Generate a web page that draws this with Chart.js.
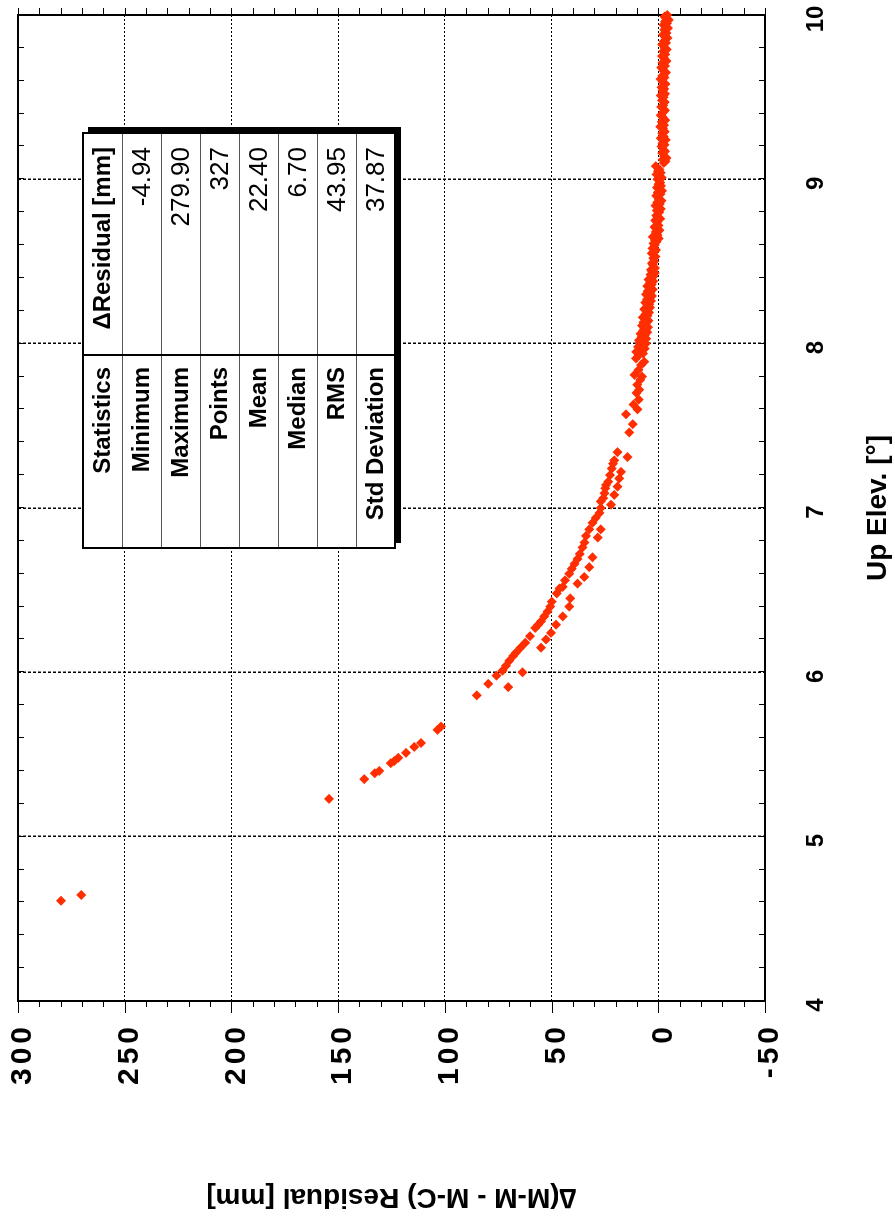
<!DOCTYPE html>
<html>
<head>
<meta charset="utf-8">
<script src="https://cdn.jsdelivr.net/npm/chart.js@4.4.1/dist/chart.umd.min.js"></script>
<style>
  html, body { margin: 0; padding: 0; background: #fff; overflow: hidden; }
  /* chart is drawn landscape, then turned 90deg counter-clockwise like the printout */
  #wrap { position: absolute; left: 0; top: 0; width: 1222px; height: 895px;
          transform-origin: 0 0; transform: translate(0px, 1222px) rotate(-90deg); }
</style>
</head>
<body>
<div id="wrap"><canvas id="residChart" width="1222" height="895"></canvas></div>
<script>
// Up elevation [deg] and delta residual [mm] in pieces
const lowElev  = [4.61, 4.645, 5.23, 5.35, 5.386, 5.40, 5.447, 5.46, 5.48, 5.51, 5.546, 5.57, 5.65, 5.67];
const lowResid = [279.9, 270.4, 154.3, 137.8, 132.8, 130.7, 125.3, 123.7, 121.8, 118.2, 114.3, 111.2, 103.4, 101.8];

const kneeElev  = [5.86, 5.91, 5.93, 5.98, 6.00, 6.01, 6.04, 6.07, 6.10, 6.12, 6.15, 6.15, 6.18, 6.20,
                   6.22, 6.24, 6.27, 6.29, 6.29, 6.31, 6.34, 6.34, 6.37, 6.40, 6.40, 6.43, 6.45, 6.48];
const kneeResid = [85.1, 70.3, 79.7, 75.8, 63.6, 73.0, 71.3, 69.8, 68.0, 66.7, 55.0, 64.6, 62.3, 52.6,
                   60.1, 50.3, 57.6, 47.9, 56.2, 55.0, 44.8, 53.4, 51.9, 41.7, 50.6, 49.9, 41.2, 47.6];

const midElev  = [6.51, 6.52, 6.54, 6.56, 6.58, 6.60, 6.63, 6.64, 6.66, 6.69, 6.70, 6.72, 6.76, 6.79,
                  6.82, 6.83, 6.87, 6.87, 6.91, 6.94, 6.97];
const midResid = [46.3, 44.8, 37.8, 43.7, 34.7, 41.7, 40.6, 32.3, 39.2, 37.9, 30.8, 36.8, 35.5, 34.6,
                  28.4, 33.9, 26.9, 32.4, 30.8, 29.3, 27.6];

const sevenElev  = [7.00, 7.02, 7.04, 7.06, 7.08, 7.09, 7.12, 7.13, 7.14, 7.16, 7.18, 7.20, 7.22, 7.24,
                    7.27, 7.29, 7.31, 7.34, 7.46, 7.51, 7.57, 7.60, 7.63, 7.66, 7.70, 7.72, 7.75, 7.78,
                    7.80, 7.81, 7.84, 7.87, 7.89, 7.91];
const sevenResid = [27.0, 22.2, 26.9, 25.8, 20.6, 25.2, 24.8, 19.1, 24.5, 23.4, 18.3, 22.6, 17.5, 21.8,
                    21.2, 20.6, 14.4, 19.1, 13.6, 12.0, 15.1, 9.7, 11.6, 9.2, 10.2, 8.9, 9.9, 8.4,
                    7.6, 11.2, 9.3, 8.1, 6.6, 10.4];

const eightElev  = [7.93, 7.94, 7.95, 7.96, 7.97, 7.98, 7.99, 8.00, 8.00, 8.01, 8.02, 8.03, 8.04, 8.05,
                    8.06, 8.07, 8.08, 8.09, 8.10, 8.11, 8.12, 8.13, 8.14, 8.15, 8.16, 8.17, 8.18, 8.19, 8.20];
const eightResid = [9.1, 7.2, 10.3, 8.4, 6.4, 9.5, 7.8, 8.6, 5.9, 7.0, 9.0, 5.6, 7.9, 6.3,
                    8.3, 5.2, 7.1, 6.6, 4.8, 7.6, 5.9, 6.9, 4.6, 6.2, 7.3, 5.1, 6.0, 4.3, 5.5];

const eightHiElev  = [8.21, 8.22, 8.23, 8.24, 8.25, 8.26, 8.27, 8.28, 8.29, 8.30, 8.31, 8.32, 8.33, 8.34,
                      8.35, 8.36, 8.37, 8.38, 8.39, 8.40, 8.41, 8.42, 8.43, 8.44, 8.45, 8.46, 8.48, 8.49,
                      8.50, 8.52, 8.53, 8.55, 8.56, 8.57, 8.58, 8.60];
const eightHiResid = [6.6, 3.9, 5.0, 4.2, 6.1, 3.4, 5.3, 4.5, 2.9, 5.7, 3.8, 4.9, 2.6, 4.1,
                      5.2, 3.1, 3.9, 2.4, 4.6, 3.3, 2.2, 3.6, 1.7, 2.9, 3.4, 1.5, 2.6, 3.0,
                      1.9, 2.4, 1.3, 3.1, 2.0, 1.1, 2.7, 1.6];

const nineElev  = [8.61, 8.62, 8.63, 8.64, 8.65, 8.66, 8.68, 8.69, 8.70, 8.71, 8.72, 8.74, 8.75, 8.76,
                   8.77, 8.78, 8.80, 8.81, 8.82, 8.83, 8.84, 8.85, 8.86, 8.87, 8.88, 8.90, 8.91, 8.92,
                   8.93, 8.94, 8.95, 8.96, 8.97, 8.98, 9.00, 9.01, 9.02, 9.03, 9.04, 9.05, 9.06, 9.08];
const nineResid = [2.2, 0.8, 1.5, -0.2, 2.6, 0.4, 1.2, -0.6, 0.9, 1.8, -0.1, 0.6, 1.4, -0.9,
                   0.3, 1.0, -0.4, 0.7, -1.2, 0.1, 1.3, -0.7, 0.5, -1.5, -0.2, 0.9, -1.0, 0.2,
                   -1.7, -0.5, 0.6, -1.3, -0.1, -0.9, 0.4, -1.6, -0.3, 0.8, -1.1, 0.1, -0.6, 1.2];

const nineHiElev  = [9.10, 9.11, 9.12, 9.13, 9.14, 9.16, 9.17, 9.18, 9.20, 9.21, 9.22, 9.24, 9.25, 9.26,
                     9.28, 9.29, 9.31, 9.32, 9.33, 9.35, 9.36, 9.38, 9.39, 9.41, 9.42, 9.44, 9.45, 9.47, 9.48];
const nineHiResid = [-2.6, -3.4, -2.1, -3.9, -2.8, -1.9, -3.2, -2.4, -1.5, -2.9, -2.0, -3.5, -1.2, -2.6,
                     -1.8, -3.0, -2.2, -0.9, -2.7, -1.6, -3.3, -2.0, -1.1, -2.5, -3.1, -1.4, -2.3, -3.0, -1.7];

const topElev  = [9.50, 9.51, 9.52, 9.54, 9.55, 9.56, 9.58, 9.59, 9.61, 9.62, 9.63, 9.65, 9.66, 9.68,
                  9.69, 9.71, 9.72, 9.74, 9.75, 9.76, 9.78, 9.79, 9.80, 9.82, 9.83, 9.84, 9.86, 9.87,
                  9.88, 9.89, 9.91, 9.92, 9.93, 9.94, 9.95, 9.96, 9.97, 9.98, 9.99, 10.0];
const topResid = [-2.4, -1.2, -3.2, -2.0, -2.8, -1.5, -3.4, -2.2, -1.0, -2.9, -1.8, -3.6, -2.4, -1.4,
                  -3.1, -2.0, -3.8, -2.6, -1.7, -3.3, -2.3, -4.0, -2.9, -1.9, -3.6, -2.6, -4.3, -3.0,
                  -2.2, -3.9, -2.8, -4.5, -3.4, -2.5, -4.1, -3.1, -4.94, -3.7, -2.9, -4.2];

// statistics box
const statHeader = ['Statistics', '\u0394Residual [mm]'];
const statLabels = ['Minimum', 'Maximum', 'Points', 'Mean', 'Median', 'RMS', 'Std Deviation'];
const statValues = ['-4.94', '279.90', '327', '22.40', '6.70', '43.95', '37.87'];

const FONT = "'Liberation Sans', Arial, Helvetica, sans-serif";
const RED = '#ff2e00';

const elevAll = [].concat(lowElev, kneeElev, midElev, sevenElev, eightElev, eightHiElev, nineElev, nineHiElev, topElev);
const residAll = [].concat(lowResid, kneeResid, midResid, sevenResid, eightResid, eightHiResid, nineResid, nineHiResid, topResid);
const points = elevAll.map((e, i) => ({ x: e, y: residAll[i] }));

function drawStatsTable(ctx) {
  const L = 674, R = 1089, T = 83, rowH = 39, split = 867;
  const B = T + rowH * (statLabels.length + 1);
  ctx.save();
  ctx.letterSpacing = '0px';
  // drop shadow
  ctx.fillStyle = '#000';
  ctx.fillRect(L + 5, B, R - L + 1, 6);
  ctx.fillRect(R, T + 5, 6, B - T + 1);
  ctx.fillStyle = '#fff';
  ctx.fillRect(L, T, R - L, B - T);

  ctx.strokeStyle = '#555';
  ctx.lineWidth = 1;
  ctx.beginPath();
  for (let i = 1; i <= statLabels.length; i++) {
    const yy = T + rowH * i + 0.5;
    ctx.moveTo(L, yy); ctx.lineTo(R, yy);
  }
  ctx.stroke();
  ctx.strokeStyle = '#000';
  ctx.lineWidth = 2;
  ctx.beginPath();
  ctx.moveTo(split, T); ctx.lineTo(split, B);
  ctx.stroke();
  ctx.strokeRect(L, T, R - L, B - T);

  ctx.fillStyle = '#000';
  ctx.textAlign = 'right';
  ctx.textBaseline = 'middle';
  ctx.font = 'bold 24px ' + FONT;
  ctx.fillText(statHeader[0], split - 12, T + rowH / 2 + 1);
  ctx.fillText(statHeader[1], R - 14, T + rowH / 2 + 1);
  statLabels.forEach((lab, i) => {
    const cy = T + rowH * (i + 1.5) + 1;
    ctx.font = 'bold 24px ' + FONT;
    ctx.fillText(lab, split - 12, cy);
    ctx.font = '26px ' + FONT;
    ctx.fillText(statValues[i], R - 14, cy);
  });
  ctx.restore();
}

const frameTicks = {
  id: 'frameTicks',
  beforeDatasetsDraw(chart) {
    const { ctx, chartArea: a, scales: { x, y } } = chart;
    ctx.save();
    ctx.strokeStyle = '#000';
    ctx.lineWidth = 1;
    ctx.beginPath();
    // residual ticks every 10 mm, out on both sides
    for (let v = -50; v <= 300; v += 10) {
      const py = Math.round(y.getPixelForValue(v)) + 0.5;
      const len = v % 50 === 0 ? 12 : 6;
      ctx.moveTo(a.left - len, py); ctx.lineTo(a.left, py);
      ctx.moveTo(a.right, py); ctx.lineTo(a.right + 7, py);
    }
    // elevation ticks every 0.2 deg, pointing in
    for (let i = 0; i <= 30; i++) {
      const px = Math.round(x.getPixelForValue(4 + i * 0.2)) + 0.5;
      ctx.moveTo(px, a.top); ctx.lineTo(px, a.top + 6);
      ctx.moveTo(px, a.bottom); ctx.lineTo(px, a.bottom - 6);
    }
    ctx.stroke();
    ctx.lineWidth = 2;
    ctx.strokeRect(a.left, a.top, a.right - a.left, a.bottom - a.top);
    ctx.restore();
  },
  afterDatasetsDraw(chart) {
    // residual tick labels (z:1) are printed spaced out
    chart.ctx.letterSpacing = '4px';
  },
  afterDraw(chart) {
    chart.ctx.letterSpacing = '0px';
    drawStatsTable(chart.ctx);
  }
};

new Chart(document.getElementById('residChart').getContext('2d'), {
  type: 'scatter',
  data: {
    datasets: [{
      label: 'Residual',
      data: points,
      pointStyle: 'rectRot',
      pointRadius: 5,
      pointHoverRadius: 5,
      backgroundColor: RED,
      borderColor: RED,
      borderWidth: 0,
      clip: false
    }]
  },
  options: {
    responsive: false,
    animation: false,
    devicePixelRatio: 1,
    layout: { padding: { left: 0, right: 15, top: 18, bottom: 0 } },
    plugins: { legend: { display: false }, tooltip: { enabled: false } },
    scales: {
      x: {
        type: 'linear',
        min: 4, max: 10,
        ticks: { stepSize: 1, padding: 0, labelOffset: -4, color: '#000', z: 0,
                 font: { family: FONT, size: 24, weight: 'bold' } },
        // invisible tick marks only push the labels off the axis; real marks come from the plugin
        grid: { color: '#000', lineWidth: 1.5, drawTicks: true, tickLength: 37, tickColor: 'rgba(0,0,0,0)' },
        border: { display: false, dash: [3, 2] },
        title: { display: true, text: 'Up Elev. [\u00b0]', color: '#000',
                 font: { family: FONT, size: 28, weight: 'bold' }, padding: { top: 0, bottom: 0 } },
        afterFit(s) { s.height = 130; }
      },
      y: {
        type: 'linear',
        min: -50, max: 300,
        ticks: { stepSize: 50, padding: 0, labelOffset: 5, color: '#000', z: 1,
                 font: { family: FONT, size: 30, weight: 'bold', lineHeight: 1.1 } },
        grid: { color: '#000', lineWidth: 1, drawTicks: true, tickLength: 22, tickColor: 'rgba(0,0,0,0)' },
        border: { display: false, dash: [2, 2] },
        title: { display: true, text: '\u2206(M-M - M-C) Residual [mm]', color: '#000',
                 font: { family: FONT, size: 28, weight: 'bold' }, padding: { top: 8, bottom: 0 } },
        afterFit(s) { s.width = 221; }
      }
    }
  },
  plugins: [frameTicks]
});
</script>
</body>
</html>
